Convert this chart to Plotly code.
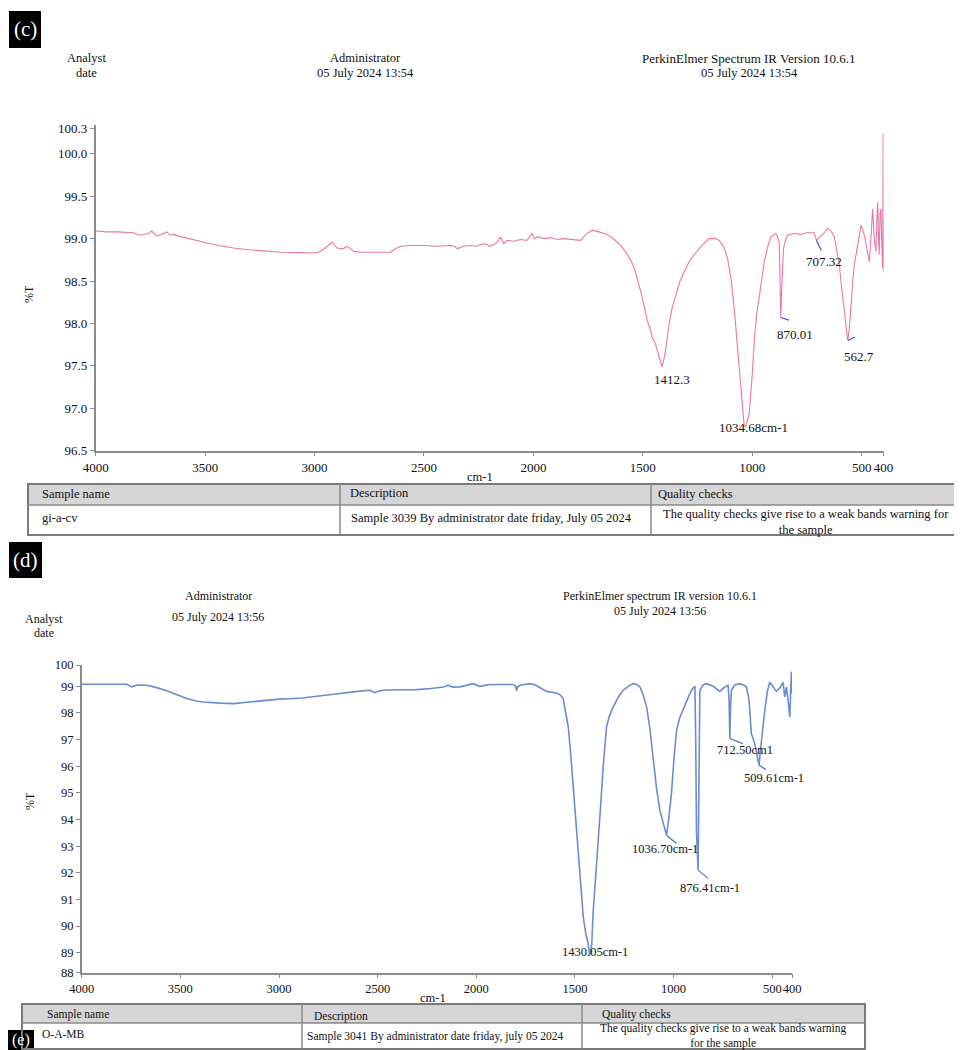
import plotly.graph_objects as go

# ---------------- DATA ----------------
# Panel (c): wavenumber (cm-1) and %T
wn_c = [4000, 3950, 3900, 3860, 3828, 3797, 3760, 3744, 3721, 3700, 3675, 3660, 3645, 3620, 3584,
        3540, 3500, 3440, 3370, 3300, 3218, 3150, 3065, 3020, 2981, 2951, 2920, 2897, 2870, 2851,
        2835, 2821, 2790, 2760, 2700, 2653, 2630, 2607, 2560, 2500, 2440, 2378, 2360, 2348, 2320,
        2290, 2260, 2241, 2220, 2200, 2181, 2165, 2150, 2135, 2120, 2090, 2060, 2030, 2006, 1995,
        1983, 1950, 1920, 1890, 1861, 1830, 1800, 1785, 1760, 1731, 1700, 1663, 1630, 1602, 1580,
        1556, 1540, 1525, 1510, 1495, 1480, 1468, 1457, 1445, 1434, 1420, 1412, 1400, 1380, 1365,
        1349, 1330, 1311, 1290, 1266, 1230, 1197, 1170, 1151, 1130, 1113, 1098, 1083, 1070, 1060,
        1048, 1037, 1030, 1014, 1000, 991, 980, 968, 955, 945, 930, 915, 900, 892, 884,
        877, 873, 870, 866, 862, 857, 848, 839, 825, 808, 780, 750, 717, 712, 707,
        700, 686, 670, 656, 640, 625, 612, 602, 595, 587, 575, 564, 556, 549, 541,
        534, 527, 519, 511, 503, 495, 488, 478, 470, 465, 458, 450, 443, 435, 431,
        427, 423, 420, 416, 412, 408, 404, 402, 400]
t_c = [99.09, 99.08, 99.08, 99.07, 99.07, 99.04, 99.06, 99.09, 99.03, 99.05, 99.08, 99.04, 99.05, 99.03, 99.01,
       98.98, 98.955, 98.92, 98.89, 98.87, 98.85, 98.84, 98.835, 98.83, 98.84, 98.89, 98.96, 98.89, 98.88, 98.91,
       98.88, 98.85, 98.84, 98.84, 98.84, 98.84, 98.88, 98.91, 98.92, 98.92, 98.91, 98.92, 98.91, 98.88, 98.91,
       98.92, 98.91, 98.93, 98.94, 98.91, 98.93, 98.96, 99.02, 98.94, 98.98, 98.97, 98.99, 98.98, 99.06, 99.00,
       99.02, 99.00, 99.01, 98.99, 99.00, 98.99, 98.98, 98.98, 99.05, 99.10, 99.08, 99.05, 98.99, 98.92, 98.85,
       98.75, 98.66, 98.535, 98.38, 98.22, 98.03, 97.95, 97.835, 97.78, 97.68, 97.56, 97.49, 97.62, 97.99, 98.20,
       98.34, 98.50, 98.61, 98.72, 98.81, 98.92, 99.00, 99.00, 98.98, 98.90, 98.77, 98.55, 98.19, 97.80, 97.41,
       97.05, 96.79, 96.78, 96.94, 97.40, 97.80, 98.10, 98.34, 98.56, 98.73, 98.90, 99.02, 99.05, 99.06, 99.02,
       98.96, 98.50, 98.07, 98.40, 98.75, 98.89, 98.98, 99.04, 99.05, 99.06, 99.05, 99.07, 99.07, 99.02, 98.98,
       99.00, 99.03, 99.07, 99.12, 99.09, 99.02, 98.85, 98.69, 98.50, 98.30, 98.05, 97.80, 97.95, 98.25, 98.50,
       98.69, 98.80, 98.89, 99.00, 99.16, 99.10, 99.04, 98.90, 98.80, 98.73, 99.00, 99.35, 99.00, 98.85, 99.20,
       99.43, 99.00, 98.81, 99.30, 99.35, 98.90, 98.65, 100.24, 98.60]

peak_wn_c = [1412.3, 1034.68, 870.01, 707.32, 562.7]
peak_t_c = [97.49, 96.78, 98.07, 98.98, 97.80]
peak_text_c = ["1412.3", "1034.68cm-1", "870.01", "707.32", "562.7"]

# Panel (d)
wn_d = [4000, 3900, 3820, 3772, 3747, 3720, 3671, 3620, 3569, 3520, 3468, 3420, 3384, 3300, 3231,
        3150, 3063, 3000, 2928, 2880, 2809, 2720, 2640, 2580, 2539, 2514, 2490, 2471, 2400, 2302,
        2230, 2167, 2142, 2120, 2083, 2040, 2015, 1982, 1940, 1898, 1850, 1813, 1800, 1796, 1790,
        1779, 1729, 1700, 1670, 1644, 1593, 1575, 1560, 1548, 1534, 1522, 1509, 1496, 1484, 1470,
        1458, 1445, 1433, 1425, 1415, 1408, 1395, 1383, 1370, 1357, 1340, 1325, 1306, 1280, 1256,
        1230, 1205, 1190, 1171, 1155, 1137, 1120, 1104, 1087, 1070, 1052, 1036, 1025, 1011, 998,
        985, 970, 952, 935, 918, 900, 892, 888, 884, 876, 872, 867, 850, 834, 800,
        766, 745, 724, 719, 715, 711, 707, 690, 665, 645, 631, 618, 606, 589, 580,
        567, 560, 549, 538, 525, 513, 496, 479, 462, 445, 437, 428, 420, 411, 406,
        403, 400]
t_d = [99.075, 99.08, 99.09, 99.08, 98.98, 99.05, 99.04, 98.95, 98.83, 98.68, 98.54, 98.45, 98.41, 98.37, 98.35,
       98.41, 98.48, 98.52, 98.54, 98.56, 98.625, 98.71, 98.79, 98.83, 98.85, 98.76, 98.83, 98.85, 98.87, 98.875,
       98.92, 98.975, 99.04, 98.97, 98.98, 99.05, 99.10, 99.00, 99.06, 99.07, 99.06, 99.07, 99.00, 98.83, 98.98,
       99.04, 99.10, 99.05, 98.92, 98.81, 98.75, 98.68, 98.54, 98.10, 97.48, 96.50, 95.35, 94.10, 92.85, 91.50,
       90.35, 89.70, 89.35, 88.90, 89.30, 90.50, 91.80, 92.85, 94.50, 95.97, 97.48, 97.90, 98.23, 98.60, 98.85,
       99.00, 99.10, 99.08, 98.98, 98.70, 98.23, 97.40, 96.23, 95.20, 94.35, 93.80, 93.41, 94.00, 94.98, 96.30,
       97.35, 97.80, 98.10, 98.45, 98.725, 98.95, 98.98, 97.00, 93.50, 92.10, 95.00, 98.85, 99.05, 99.10, 99.00,
       98.81, 98.95, 99.04, 98.50, 97.04, 98.30, 98.85, 99.05, 99.10, 99.05, 98.98, 98.50, 97.23, 96.85, 96.50,
       96.04, 96.60, 97.50, 98.10, 98.80, 99.15, 98.98, 98.81, 98.94, 99.15, 98.60, 98.98, 98.48, 97.85, 99.00,
       99.55, 98.73]

peak_wn_d = [1430.05, 1036.70, 876.41, 712.50, 509.61]
peak_x_d = [1425, 1036, 876, 715, 567]
peak_t_d = [88.90, 93.41, 92.10, 97.04, 96.04]
peak_text_d = ["1430.05cm-1", "1036.70cm-1", "876.41cm-1", "712.50cm1", "509.61cm-1"]

x_ticks = [4000, 3500, 3000, 2500, 2000, 1500, 1000, 500, 400]
y_ticks_c = [96.5, 97.0, 97.5, 98.0, 98.5, 99.0, 99.5, 100.0, 100.3]
y_ticks_d = [88, 89, 90, 91, 92, 93, 94, 95, 96, 97, 98, 99, 100]

table_header = ["Sample name", "Description", "Quality checks"]
table_c_row = ["gi-a-cv", "Sample 3039 By administrator date friday, July 05 2024",
               "The quality checks give rise to a weak bands warning for<br>the sample"]
table_d_row = ["O-A-MB", "Sample 3041 By administrator date friday, july 05 2024",
               "The quality checks give rise to a weak bands warning<br>for the sample"]

# ---------------- FIGURE ----------------
# the page body adds an 8px margin; the figure fills the rest of the 962x1050 window
OFF = 8
W, H = 962 - OFF, 1050 - OFF
SERIF = "Liberation Serif, Times New Roman, serif"


def px(x):
    return (x - OFF) / W


def py(y):
    return 1 - (y - OFF) / H


fig = go.Figure()

PINK = "#ec74aa"
BLUE = "#6a8dcf"
LEADER = "#4a4ad0"

fig.add_trace(go.Scatter(x=wn_c, y=t_c, mode="lines", line=dict(color=PINK, width=1.1),
                         xaxis="x", yaxis="y", showlegend=False, hoverinfo="skip"))
fig.add_trace(go.Scatter(x=wn_d, y=t_d, mode="lines", line=dict(color=BLUE, width=1.6),
                         xaxis="x2", yaxis="y2", showlegend=False, hoverinfo="skip"))

# leader lines (offsets in axis units)
lead_c = {2: (-38, -0.03), 3: (-23, -0.12), 4: (-31, 0.04)}
for i, (dx, dy) in lead_c.items():
    fig.add_trace(go.Scatter(x=[peak_wn_c[i], peak_wn_c[i] + dx], y=[peak_t_c[i], peak_t_c[i] + dy],
                             mode="lines", line=dict(color=LEADER, width=1.2),
                             xaxis="x", yaxis="y", showlegend=False, hoverinfo="skip"))
lead_d = {1: (-51, -0.31), 2: (-51, -0.31), 3: (-66, -0.19), 4: (-34, -0.16)}
for i, (dx, dy) in lead_d.items():
    fig.add_trace(go.Scatter(x=[peak_x_d[i], peak_x_d[i] + dx], y=[peak_t_d[i], peak_t_d[i] + dy],
                             mode="lines", line=dict(color="#5570c0", width=1.2),
                             xaxis="x2", yaxis="y2", showlegend=False, hoverinfo="skip"))

ann = []
shift_c = [(10, -13), (9, -1), (14, -17), (8, -21), (11, -16)]
for i, t in enumerate(peak_text_c):
    ann.append(dict(x=peak_wn_c[i], y=peak_t_c[i], xref="x", yref="y", text=t, showarrow=False,
                    xshift=shift_c[i][0], yshift=shift_c[i][1],
                    font=dict(family=SERIF, size=13, color="#111")))
shift_d = [(5, 3), (-2, -14), (12, -18), (15, -11), (15, -13)]
for i, t in enumerate(peak_text_d):
    ann.append(dict(x=peak_x_d[i], y=peak_t_d[i], xref="x2", yref="y2", text=t, showarrow=False,
                    xshift=shift_d[i][0], yshift=shift_d[i][1],
                    font=dict(family=SERIF, size=12.5, color="#111")))


def txt(x, y, s, size=12.5, xanchor="center", color="#111"):
    ann.append(dict(x=px(x), y=py(y), xref="paper", yref="paper", text=s, showarrow=False,
                    xanchor=xanchor, yanchor="middle", font=dict(family=SERIF, size=size, color=color)))


# panel labels in black boxes
shapes = []
for (x0, y0, x1, y1, lab, fs) in [(9, 11, 41, 48, "(c)", 21), (9, 542, 42, 578, "(d)", 21),
                                  (8, 1030, 34, 1050, "(e)", 16)]:
    shapes.append(dict(type="rect", xref="paper", yref="paper", x0=px(x0), x1=px(x1), y0=py(y1), y1=py(y0),
                       fillcolor="black", line=dict(width=0), layer="above"))
    txt((x0 + x1) / 2, (y0 + y1) / 2, lab, size=fs, color="white")

# headers (c)
txt(86, 58, "Analyst")
txt(86, 73, "date")
txt(365, 58, "Administrator")
txt(365, 73, "05 July 2024 13:54")
txt(749, 58, "PerkinElmer Spectrum IR Version 10.6.1", size=13)
txt(749, 73, "05 July 2024 13:54")
# headers (d)
txt(218, 596, "Administrator", size=12)
txt(218, 617, "05 July 2024 13:56", size=12)
txt(660, 596, "PerkinElmer spectrum IR version 10.6.1", size=12)
txt(660, 611, "05 July 2024 13:56", size=12)
txt(44, 619, "Analyst", size=12)
txt(44, 633, "date", size=12)

# axis titles
ann.append(dict(x=px(20), y=py(283), xref="paper", yref="paper", text="%T", showarrow=False, textangle=-90,
                font=dict(family=SERIF, size=12, color="#111")))
ann.append(dict(x=px(21), y=py(812), xref="paper", yref="paper", text="%T", showarrow=False, textangle=-90,
                font=dict(family=SERIF, size=12, color="#111")))
txt(480, 477, "cm-1", size=12.5)
txt(433, 998, "cm-1", size=12.5)


# tables
def table(left, cols, right, top, mid, bottom, header, row, hx, rx, qx, qy, size):
    shapes.append(dict(type="rect", xref="paper", yref="paper", x0=px(left), x1=px(right),
                       y0=py(mid), y1=py(top), fillcolor="#d6d6d6", line=dict(width=0), layer="below"))
    shapes.append(dict(type="rect", xref="paper", yref="paper", x0=px(left), x1=px(right),
                       y0=py(bottom), y1=py(top), fillcolor="rgba(0,0,0,0)",
                       line=dict(color="#7a7a7a", width=2)))
    shapes.append(dict(type="line", xref="paper", yref="paper", x0=px(left), x1=px(right),
                       y0=py(mid), y1=py(mid), line=dict(color="#8a8a8a", width=1.5)))
    for c in cols:
        shapes.append(dict(type="line", xref="paper", yref="paper", x0=px(c), x1=px(c),
                           y0=py(bottom), y1=py(top), line=dict(color="#8a8a8a", width=1.5)))
    for i, h in enumerate(header):
        txt(hx[i][0], hx[i][1], h, size=size, xanchor="left")
    txt(rx[0][0], rx[0][1], row[0], size=size, xanchor="left")
    txt(rx[1][0], rx[1][1], row[1], size=size, xanchor="left")
    ann.append(dict(x=px(qx), y=py(qy), xref="paper", yref="paper", text=row[2], showarrow=False,
                    xanchor="center", yanchor="middle", align="center",
                    font=dict(family=SERIF, size=size, color="#111")))


table(28, [340, 651], 960, 484, 505, 535, table_header, table_c_row,
      [(40, 494), (348, 493), (656, 494)], [(40, 518), (349, 518)], 806, 522, 12.5)
table(22, [302, 582], 865, 1004, 1023, 1049, table_header, table_d_row,
      [(45, 1014), (312, 1016), (600, 1014)], [(40, 1034), (305, 1036)], 723, 1036, 11.5)

axis_common = dict(showline=True, linecolor="#8c8c8c", linewidth=1.5, ticks="outside", ticklen=4,
                   tickcolor="#8c8c8c", tickwidth=1, showgrid=False, zeroline=False, mirror=False,
                   tickangle=0, fixedrange=True, automargin=False)

fig.update_layout(
    width=W, height=H, margin=dict(l=0, r=0, t=0, b=0, pad=0, autoexpand=False),
    paper_bgcolor="white", plot_bgcolor="white", showlegend=False,
    xaxis=dict(domain=[px(95.7), px(883.6)], range=[4000, 400], anchor="y", tickvals=x_ticks,
               ticktext=[str(v) for v in x_ticks],
               tickfont=dict(family=SERIF, size=13, color="#111"), **axis_common),
    yaxis=dict(domain=[py(450.7), py(125)], range=[96.5, 100.34], anchor="x", tickvals=y_ticks_c,
               ticktext=["%.1f" % v for v in y_ticks_c],
               tickfont=dict(family=SERIF, size=13, color="#111"), **axis_common),
    xaxis2=dict(domain=[px(81.7), px(792)], range=[4000, 400], anchor="y2", tickvals=x_ticks,
                ticktext=[str(v) for v in x_ticks],
                tickfont=dict(family=SERIF, size=12.5, color="#111"), **axis_common),
    yaxis2=dict(domain=[py(972.7), py(665)], range=[88.25, 99.8], anchor="x2",
                tickvals=[88.25] + y_ticks_d[1:-1] + [99.8],
                ticktext=[str(v) for v in y_ticks_d],
                tickfont=dict(family=SERIF, size=12.5, color="#111"), **axis_common),
    annotations=ann, shapes=shapes,
)

fig.write_html("out.html")
